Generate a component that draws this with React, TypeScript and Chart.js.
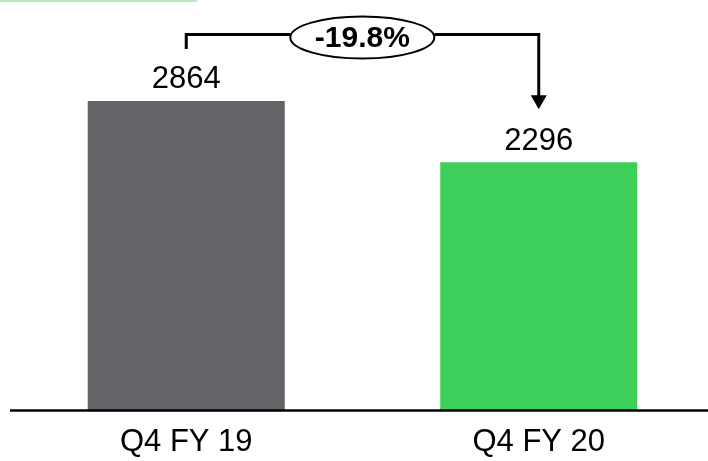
import React, { useEffect, useRef } from "react";
import { Chart, registerables } from "chart.js";

Chart.register(...registerables);

const categories = ["Q4 FY 19", "Q4 FY 20"];
const values = [2864, 2296];
const barColors = ["#636468", "#3ecf5b"];
const changeLabel = "-19.8%";
const yMax = 3800;

const FONT = '"Liberation Sans", Arial, Helvetica, sans-serif';

const overlayPlugin = {
  id: "overlay",
  afterDatasetsDraw(chart: any) {
    const ctx = chart.ctx as CanvasRenderingContext2D;
    const area = chart.chartArea;
    const meta = chart.getDatasetMeta(0);
    const bars = meta.data as any[];
    ctx.save();

    // decorative top strip
    ctx.fillStyle = "#b5e8bd";
    ctx.fillRect(0, 0, 197, 2);

    // baseline axis
    ctx.strokeStyle = "#000";
    ctx.lineWidth = 2.5;
    ctx.beginPath();
    ctx.moveTo(area.left, area.bottom + 0.5);
    ctx.lineTo(area.right, area.bottom + 0.5);
    ctx.stroke();

    // category labels
    ctx.fillStyle = "#000";
    ctx.textAlign = "center";
    ctx.textBaseline = "alphabetic";
    ctx.font = `31px ${FONT}`;
    bars.forEach((b, i) => {
      ctx.fillText(categories[i], b.x, area.bottom + 41);
    });

    // value labels
    ctx.font = `31px ${FONT}`;
    bars.forEach((b, i) => {
      ctx.fillText(String(values[i]), b.x, b.y - 12.5);
    });

    // bracket with change
    const x0 = bars[0].x;
    const x1 = bars[1].x;
    const lineY = 34.5;
    const startBottom = bars[0].y - 52;
    const arrowTip = bars[1].y - 53;
    const cx = 362.3;
    const cy = 37.5;
    const rx = 72;
    const ry = 21;

    ctx.lineWidth = 3;
    ctx.strokeStyle = "#000";
    ctx.beginPath();
    ctx.moveTo(x0, startBottom);
    ctx.lineTo(x0, lineY);
    ctx.lineTo(cx - rx, lineY);
    ctx.moveTo(cx + rx, lineY);
    ctx.lineTo(x1, lineY);
    ctx.lineTo(x1, arrowTip - 12);
    ctx.stroke();

    ctx.fillStyle = "#000";
    ctx.beginPath();
    ctx.moveTo(x1 - 8, arrowTip - 14);
    ctx.lineTo(x1 + 8, arrowTip - 14);
    ctx.lineTo(x1, arrowTip);
    ctx.closePath();
    ctx.fill();

    ctx.lineWidth = 2;
    ctx.beginPath();
    ctx.ellipse(cx, cy, rx, ry, 0, 0, Math.PI * 2);
    ctx.fillStyle = "#fff";
    ctx.fill();
    ctx.stroke();

    ctx.fillStyle = "#000";
    ctx.font = `bold 30px ${FONT}`;
    ctx.textBaseline = "middle";
    ctx.fillText(changeLabel, cx, cy + 1);

    ctx.restore();
  },
};

export default function App() {
  const canvasRef = useRef<HTMLCanvasElement | null>(null);

  useEffect(() => {
    const canvas = canvasRef.current;
    if (!canvas) return;
    const chart = new Chart(canvas, {
      type: "bar",
      data: {
        labels: categories,
        datasets: [
          {
            data: values,
            backgroundColor: barColors,
            borderWidth: 0,
            barPercentage: 0.559,
            categoryPercentage: 1,
          },
        ],
      },
      options: {
        responsive: false,
        animation: false,
        devicePixelRatio: 1,
        layout: { padding: { left: 10, right: 1, top: 0, bottom: 51 } },
        plugins: {
          legend: { display: false },
          tooltip: { enabled: false },
        },
        scales: {
          x: { display: false, offset: true },
          y: { display: false, min: 0, max: yMax },
        },
      },
      plugins: [overlayPlugin],
    });
    return () => chart.destroy();
  }, []);

  return (
    <div
      style={{
        position: "absolute",
        left: 0,
        top: 0,
        width: 708,
        height: 461,
        overflow: "hidden",
        background: "#fff",
      }}
    >
      <canvas ref={canvasRef} width={716} height={461} style={{ display: "block" }} />
    </div>
  );
}
